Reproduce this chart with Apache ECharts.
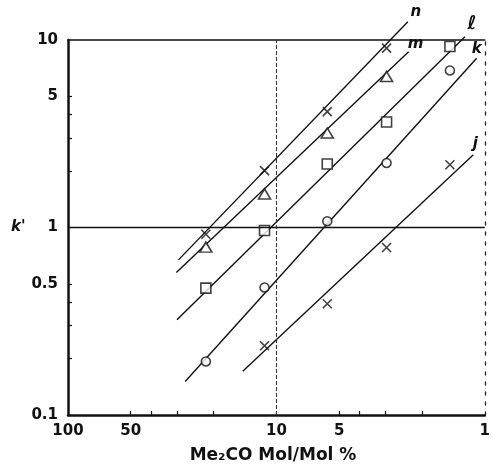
<!DOCTYPE html>
<html>
<head>
<meta charset="utf-8">
<script src="https://cdn.jsdelivr.net/npm/echarts@6/dist/echarts.min.js"></script>
<style>
html,body{margin:0;padding:0;background:#fff;}
#chart{width:493px;height:466px;}
</style>
</head>
<body>
<div id="chart"></div>
<script>
// Me2CO concentration (Mol/Mol %) of the measured points
const xValues = [21.8, 11.4, 5.7, 2.96, 1.47];
// k' values of each series (n, m, l, k use xValues from the start; j from the 2nd)
const nValues = [0.92, 2.01, 4.15, 9.05];
const mValues = [0.786, 1.51, 3.19, 6.39];
const lValues = [0.475, 0.964, 2.18, 3.65, 9.23];
const kValues = [0.193, 0.479, 1.08, 2.21, 6.88];
const jValues = [0.234, 0.392, 0.782, 2.16];
const jStart = 1;
// fitted straight lines (log-log), two end points each
const nLine = [[29.5, 0.672], [2.34, 12.5]];
const mLine = [[30.2, 0.575], [2.32, 8.65]];
const lLine = [[30.0, 0.322], [1.245, 10.4]];
const kLine = [[27.4, 0.151], [1.094, 8.0]];
const jLine = [[14.5, 0.171], [1.135, 2.44]];
const lineNames = ['n', 'm', 'ℓ', 'k', 'j'];
// axis labels / ticks
const xLabelValues = [100, 50, 10, 5, 1];
const xTickValues = [50, 40, 30, 20, 5, 4, 3, 2];
const yLabelValues = [10, 5, 1, 0.5, 0.1];
const yTickValues = [5, 4, 3, 2, 0.5, 0.4, 0.3, 0.2];
const refX = 10, refY = 1;

const chart = echarts.init(document.getElementById('chart'), null, {renderer: 'canvas'});
const font = 'DejaVu Sans';
const black = '#111';

function pts(xs, ys, off) { return ys.map((v, i) => [xs[i + off], v]); }

const crossPath = 'path://M0,0L10,10M10,0L0,10';
const lineStyle = {color: black, width: 1.4};
function lineSeries(name, data) {
  return {type: 'line', name: name, data: data, symbol: 'none', clip: false,
    lineStyle: lineStyle, silent: true, z: 2};
}
function scatterSeries(data, symbol, size, fill) {
  return {type: 'scatter', data: data, symbol: symbol, symbolSize: size, z: 3,
    itemStyle: {color: fill, borderColor: black, borderWidth: 1.6}, silent: true};
}

const lines = [nLine, mLine, lLine, kLine, jLine];
const series = [
  lineSeries('n', nLine), lineSeries('m', mLine), lineSeries('ℓ', lLine),
  lineSeries('k', kLine), lineSeries('j', jLine),
  scatterSeries(pts(xValues, nValues, 0), crossPath, 9, black),
  scatterSeries(pts(xValues, mValues, 0), 'triangle', [12, 10], '#fff'),
  scatterSeries(pts(xValues, lValues, 0), 'rect', 10, '#fff'),
  scatterSeries(pts(xValues, kValues, 0), 'circle', 9, '#fff'),
  scatterSeries(pts(xValues, jValues, jStart), crossPath, 9, black)
];
series[0].markLine = {
  silent: true, symbol: 'none', label: {show: false},
  data: [
    {yAxis: refY, lineStyle: {type: 'solid', color: black, width: 1.3}},
    {xAxis: refX, lineStyle: {type: [4, 2], color: '#333', width: 1.1}}
  ]
};

function fmt(v) { return String(v); }

chart.setOption({
  animation: false,
  backgroundColor: '#fff',
  grid: {left: 68, right: 3, top: 40, bottom: 51},
  xAxis: [{
    type: 'log', logBase: 10, min: 1, max: 100, inverse: true,
    axisLine: {show: true, lineStyle: {color: black, width: 2.5}},
    axisTick: {show: true, inside: true, length: 4, customValues: xTickValues, lineStyle: {color: black, width: 1.2}},
    axisLabel: {show: true, customValues: xLabelValues, formatter: fmt, margin: 9,
      color: black, fontFamily: font, fontWeight: 'bold', fontSize: 15},
    splitLine: {show: false}, minorTick: {show: false}
  }, {
    type: 'log', logBase: 10, min: 1, max: 100, inverse: true, position: 'top',
    axisLine: {show: true, lineStyle: {color: black, width: 1.6}},
    axisTick: {show: false}, axisLabel: {show: false}, splitLine: {show: false}
  }],
  yAxis: [{
    type: 'log', logBase: 10, min: 0.1, max: 10,
    name: "k'", nameLocation: 'middle', nameRotate: 0, nameGap: 40,
    nameTextStyle: {fontFamily: font, fontStyle: 'italic', fontWeight: 'bold', fontSize: 15, color: black},
    axisLine: {show: true, lineStyle: {color: black, width: 2.5}},
    axisTick: {show: true, inside: true, length: 4, customValues: yTickValues, lineStyle: {color: black, width: 1.2}},
    axisLabel: {show: true, customValues: yLabelValues, formatter: fmt, margin: 10,
      color: black, fontFamily: font, fontWeight: 'bold', fontSize: 15},
    splitLine: {show: false}, minorTick: {show: false}
  }, {
    type: 'log', logBase: 10, min: 0.1, max: 10, position: 'right',
    axisLine: {show: true, lineStyle: {color: '#222', width: 1.3, type: [3, 7]}},
    axisTick: {show: false}, axisLabel: {show: false}, splitLine: {show: false}
  }],
  series: series
});

// line labels near the upper end of each line
const labelOffsets = [[8, -10], [7, -8], [7, -13], [0, -9], [2, -11]];
const labelSizes = [15, 15, 19, 15, 15];
const graphics = lines.map((ln, i) => {
  const p = chart.convertToPixel({gridIndex: 0}, ln[1]);
  return {type: 'text', x: p[0] + labelOffsets[i][0], y: p[1] + labelOffsets[i][1],
    style: {text: lineNames[i], fill: black, font: 'italic bold ' + labelSizes[i] + 'px "DejaVu Sans"',
      align: 'center', verticalAlign: 'middle'}, z: 10};
});
graphics.push({type: 'text', x: 273, y: 456,
  style: {text: 'Me₂CO Mol/Mol %', fill: black, font: 'bold 17px "DejaVu Sans"',
    align: 'center', verticalAlign: 'middle'}});
chart.setOption({graphic: graphics});
</script>
</body>
</html>
